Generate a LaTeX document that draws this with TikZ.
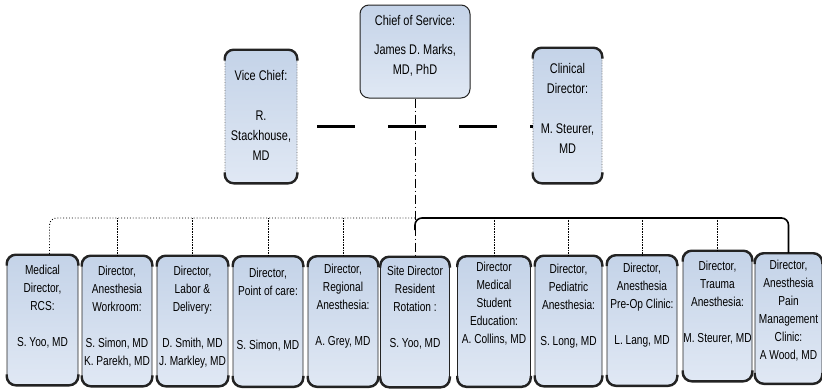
\documentclass[tikz,border=0pt]{standalone}
\usepackage{fontspec}
\setmainfont{Liberation Sans}[FakeStretch=0.78]
\usepackage{tikz}
\usetikzlibrary{positioning,calc}
\definecolor{BoxBlue}{RGB}{196,211,232}
\definecolor{BoxPale}{RGB}{224,232,244}
\definecolor{RimGray}{RGB}{35,35,35}

\begin{document}
\begin{tikzpicture}[x=1pt, y=-1pt,
    % boxes
    chiefbox/.style={draw=RimGray, line width=1pt, rounded corners=9pt, top color=BoxBlue, bottom color=BoxPale, inner sep=0pt},
    sidebox/.style={draw=gray!80!black, densely dotted, semithick, rounded corners=9pt, top color=BoxBlue, bottom color=BoxPale, inner sep=0pt},
    unitbox/.style={draw=RimGray, semithick, rounded corners=10pt, top color=BoxBlue, bottom color=BoxPale, inner sep=0pt, minimum width=70pt, minimum height=130pt},
    rim/.style={draw=RimGray, line width=2.4pt, rounded corners=9pt},
    % texts
    toptext/.style={anchor=north, align=center, inner sep=0pt, font=\fontsize{14}{20}\selectfont},
    unittext/.style={anchor=north, align=center, inner sep=0pt, font=\fontsize{13}{18}\selectfont},
    % lines
    chieflink/.style={draw=black, semithick, dash pattern=on 9pt off 3pt on 1pt off 3pt},
    sidelink/.style={draw=black, line width=2.6pt, dash pattern=on 38pt off 33pt, dash phase=51pt},
    busleft/.style={draw=black, line width=0.9pt, dotted, rounded corners=7pt},
    busright/.style={draw=black, line width=1.6pt, rounded corners=7pt},
    link/.style={draw=black, semithick, densely dotted}
  ]
  \useasboundingbox (0,0) rectangle (822,389);

  % --- TOP ROW ---
  \node[chiefbox, minimum width=110pt, minimum height=93pt] (chief) at (415,51.5) {};
  \node[sidebox, minimum width=72pt, minimum height=133pt] (vice) at (261,116.5) {};
  \node[sidebox, minimum width=69pt, minimum height=135pt] (clin) at (567.5,115.5) {};

  \node[toptext] (chieft) at ([yshift=-11pt]chief.north) {Chief of Service:\\[9pt]James D. Marks,\\MD, PhD};
  \node[toptext] (vicet) at ([yshift=-20pt]vice.north) {Vice Chief:\\[20pt]R.\\Stackhouse,\\MD};
  \node[toptext] (clint) at ([yshift=-15pt]clin.north) {Clinical\\Director:\\[20pt]M. Steurer,\\MD};

  % --- LOWER ROW ---
  \node[unitbox, minimum width=71pt] (b1) at (42.5,320) {};
  \node[unitbox] (b2) at (117,321) {};
  \node[unitbox, minimum width=71pt] (b3) at (192.5,321) {};
  \node[unitbox] (b4) at (268,321.5) {};
  \node[unitbox] (b5) at (343,321.5) {};
  \node[unitbox, minimum width=69pt] (b6) at (415,322) {};
  \node[unitbox, minimum width=73pt] (b7) at (494,321.5) {};
  \node[unitbox, minimum width=67pt] (b8) at (568.5,321) {};
  \node[unitbox] (b9) at (642,320.5) {};
  \node[unitbox, minimum width=69pt] (b10) at (717.5,316) {};
  \node[unitbox, minimum width=67pt] (b11) at (788.5,318.5) {};

  \node[unittext] (t1) at ([yshift=-10pt]b1.north) {Medical\\Director,\\RCS:\\[18pt]S. Yoo, MD};
  \node[unittext] (t2) at ([yshift=-10pt]b2.north) {Director,\\Anesthesia\\Workroom:\\[18pt]S. Simon, MD\\K. Parekh, MD};
  \node[unittext] (t3) at ([yshift=-10pt]b3.north) {Director,\\Labor \&\\Delivery:\\[18pt]D. Smith, MD\\J. Markley, MD};
  \node[unittext] (t4) at ([yshift=-12pt]b4.north) {Director,\\Point of care:\\[36pt]S. Simon, MD};
  \node[unittext] (t5) at ([yshift=-8pt]b5.north) {Director,\\Regional\\Anesthesia:\\[18pt]A. Grey, MD};
  \node[unittext] (t6) at ([yshift=-9pt]b6.north) {Site Director\\Resident\\Rotation :\\[18pt]S. Yoo, MD};
  \node[unittext] (t7) at ([yshift=-6pt]b7.north) {Director\\Medical\\Student\\Education:\\A. Collins, MD};
  \node[unittext] (t8) at ([yshift=-8pt]b8.north) {Director,\\Pediatric\\Anesthesia:\\[18pt]S. Long, MD};
  \node[unittext] (t9) at ([yshift=-8pt]b9.north) {Director,\\Anesthesia\\Pre-Op Clinic:\\[18pt]L. Lang, MD};
  \node[unittext] (t10) at ([yshift=-10pt]b10.north) {Director,\\Trauma\\Anesthesia:\\[18pt]M. Steurer, MD};
  \node[unittext] (t11) at ([yshift=-7pt]b11.north) {Director,\\Anesthesia\\Pain\\Management\\Clinic:\\A Wood, MD};

  % thick top and bottom edges
  \foreach \b in {vice,clin,b1,b2,b3,b4,b5,b6,b7,b8,b9,b10,b11} {
    \draw[rim] ([yshift=-11pt]\b.north west) |- (\b.north) -| ([yshift=-11pt]\b.north east);
    \draw[rim] ([yshift=11pt]\b.south west) |- (\b.south) -| ([yshift=11pt]\b.south east);
  }

  % --- LINES ---
  \coordinate (hub) at (415,218);
  \coordinate (leftdrop) at ([xshift=7pt]b1.north);

  \draw[sidelink] ([yshift=-10pt]vice.east) -- ([yshift=-10pt]vice.east -| clin.west);
  \draw[chieflink] (chief.south) -- (b6.north);

  \draw[busleft] (hub) -| (leftdrop);
  \draw[busright] ([yshift=-12pt]hub) |- (hub -| b11.north) -- (b11.north);

  \draw[link] (hub -| b2.north) -- (b2.north); \draw[link] (hub -| b3.north) -- (b3.north);
  \draw[link] (hub -| b4.north) -- (b4.north); \draw[link] (hub -| b5.north) -- (b5.north);
  \draw[link] (hub -| b7.north) -- (b7.north); \draw[link] (hub -| b8.north) -- (b8.north);
  \draw[link] (hub -| b9.north) -- (b9.north); \draw[link] (hub -| b10.north) -- (b10.north);

\end{tikzpicture}
\end{document}
